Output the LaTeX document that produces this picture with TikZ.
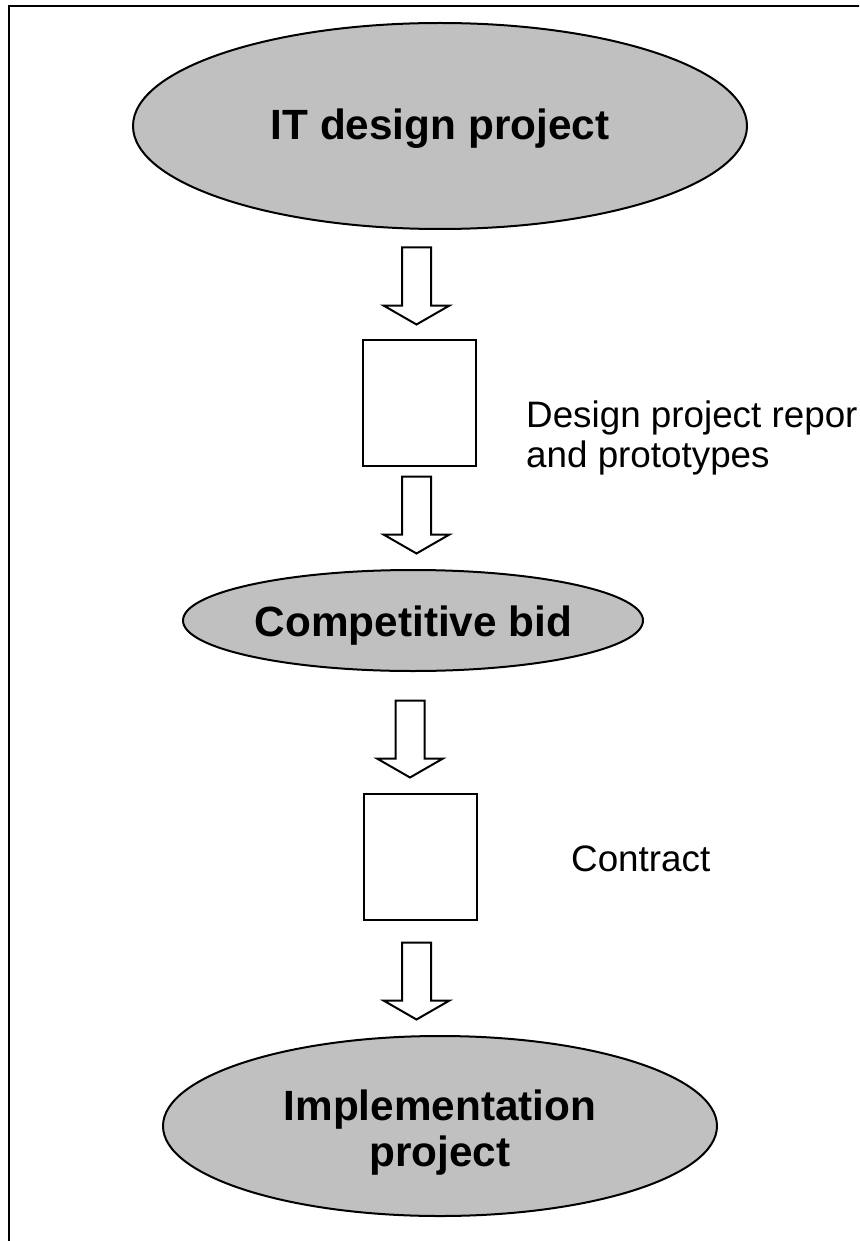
\documentclass[tikz,border=0pt]{standalone}
\usepackage{fontspec}
\setmainfont{Liberation Sans}
\usetikzlibrary{shapes.geometric}
\definecolor{ovalgray}{RGB}{192,192,192}
\tikzset{
  oval/.style={ellipse, draw=black, fill=ovalgray, line width=2pt, inner sep=0pt},
  ovaltext/.style={font=\fontsize{42.3}{46}\selectfont\bfseries, inner sep=0pt, align=center},
  docbox/.style={rectangle, draw=black, line width=2pt, minimum width=113pt, minimum height=126pt, inner sep=0pt},
  labeltext/.style={font=\fontsize{36.8}{40}\selectfont, inner sep=0pt, align=left},
  frameline/.style={draw=black, line width=2.6pt},
  % hollow downward block arrow, origin at the middle of its top edge
  blockarrow/.pic={
    \draw[line width=2pt, line join=miter, fill=white]
      (-14.5,0) -- (-14.5,58) -- (-33,58) -- (0,77) -- (33,58) -- (14.5,58) -- (14.5,0) -- cycle;
  }
}
\begin{document}
\begin{tikzpicture}[x=1pt, y=-1pt]
  \useasboundingbox (0,0) rectangle (859,1241);
  \clip (0,0) rectangle (859,1241);

  % outer frame (runs past the right and bottom edges)
  \draw[frameline] (9,6) rectangle (900,1300);

  % stages
  \node[oval, minimum width=614pt, minimum height=206pt] (e1) at (440,126) {};
  \node[ovaltext, anchor=base] (t1) at (440,140) {IT design project};

  \pic (a1) at (416.5,247.5) {blockarrow};
  \node[docbox] (b1) at (419.5,403) {};
  \pic (a2) at (416.5,476.5) {blockarrow};

  \node[oval, minimum width=460pt, minimum height=101pt] (e2) at (413,620.5) {};
  \node[ovaltext, anchor=base] (t2) at (413.5,636) {Competitive bid};

  \pic (a3) at (410,700.5) {blockarrow};
  \node[docbox] (b2) at (420.5,857) {};
  \pic (a4) at (416.5,942.5) {blockarrow};

  \node[oval, minimum width=554pt, minimum height=180pt] (e3) at (440,1126) {};
  \node[ovaltext] (t3) at (440,1133) {Implementation\\project};

  % document labels
  \node[labeltext, anchor=north west] (l1) at (526,401) {Design project repor\\and prototypes};
  \node[labeltext, anchor=base west] (l2) at (571,871.7) {Contract};
\end{tikzpicture}
\end{document}
